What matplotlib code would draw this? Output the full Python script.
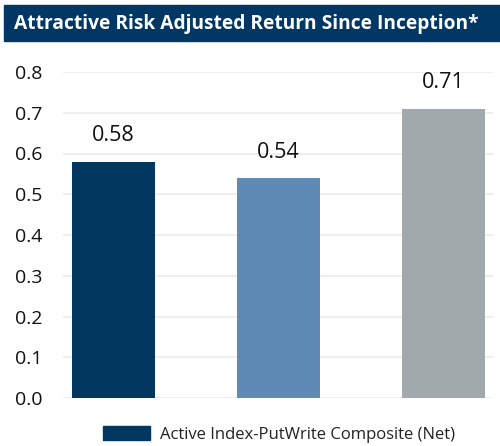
import matplotlib
matplotlib.use("Agg")
import matplotlib.pyplot as plt
from matplotlib.patches import Rectangle, Patch

plt.rcParams['font.family'] = ['Open Sans', 'DejaVu Sans']

# chart data
categories = ["Active Index-PutWrite Composite (Net)", "Series 2", "Series 3"]
values = [0.58, 0.54, 0.71]
colors = ["#02375f", "#5e8ab5", "#a2a9ac"]
yticks = [0.0, 0.1, 0.2, 0.3, 0.4, 0.5, 0.6, 0.7, 0.8]
title = "Attractive Risk Adjusted Return Since Inception*"

W, H = 500, 446
fig = plt.figure(figsize=(W / 100, H / 100), dpi=100)

# title banner
fig.patches.append(Rectangle((4 / W, 1 - 41 / H), 1 - 4 / W, 36 / H,
                             transform=fig.transFigure, color="#003764", zorder=0))
fig.text(14 / W, 1 - 23.5 / H, title, color="white", fontsize=13.8,
         fontweight="bold", va="center", ha="left")

ax = fig.add_axes([63 / W, 48 / H, 430 / W, 326 / H])
x = list(range(len(values)))
bars = ax.bar(x, values, width=0.503, color=colors, zorder=2)
for xi, v in zip(x, values):
    ax.annotate(f"{v:.2f}", (xi, v), xytext=(0, 11), textcoords="offset points",
                ha="center", va="bottom", fontsize=15.5, color="#111111")

ax.set_xlim(-0.306, 2.3)
ax.set_ylim(0, 0.8)
ax.set_yticks(yticks)
ax.set_yticklabels([f"{t:.1f}" for t in yticks], fontsize=14, color="#111111")
ax.set_xticks([])
ax.grid(axis="y", color="#ebebeb", linewidth=1.2, zorder=0)
ax.tick_params(axis="y", length=0, pad=15)
for s in ax.spines.values():
    s.set_visible(False)

fig.legend(handles=[Patch(color=colors[0])], labels=[categories[0]],
           loc="upper left", bbox_to_anchor=(88 / W, 1 - 411 / H), frameon=False,
           fontsize=12, handlelength=2.8, handleheight=0.9, handletextpad=0.6,
           labelcolor="#222222")

fig.savefig("out.png", dpi=100, facecolor="white")
